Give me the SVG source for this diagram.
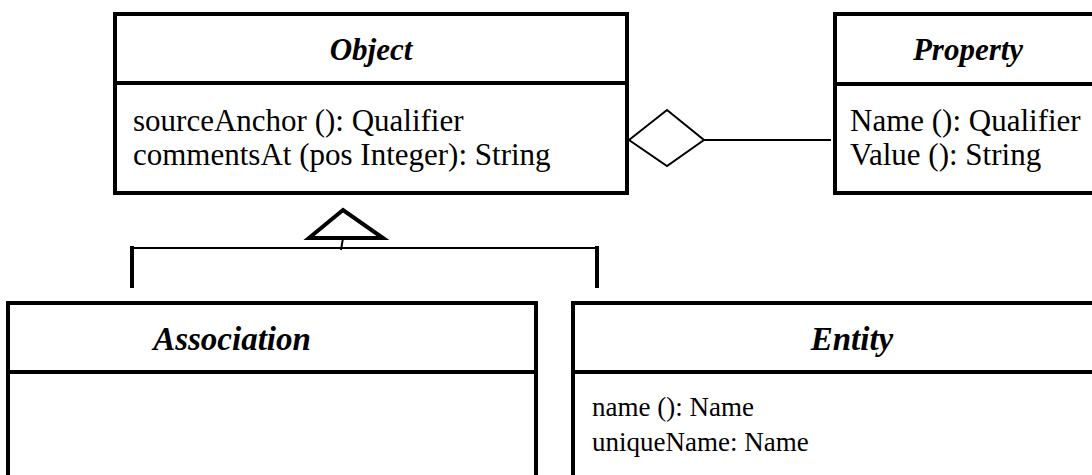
<svg xmlns="http://www.w3.org/2000/svg" width="1092" height="475" viewBox="0 0 1092 475">
  <style>
    .box { fill: #ffffff; stroke: #000000; stroke-width: 4; }
    .div { stroke: #000000; stroke-width: 4; }
    .title { font-family: "Liberation Serif", "Times New Roman", serif; font-weight: bold; font-style: italic; font-size: 31px; fill: #000000; text-anchor: middle; }
    .title-lg { font-size: 33px; }
    .row { font-family: "Liberation Serif", "Times New Roman", serif; font-size: 31px; fill: #000000; }
    .row-sm { font-family: "Liberation Serif", "Times New Roman", serif; font-size: 27px; fill: #000000; }
    .thin { fill: none; stroke: #000000; stroke-width: 2; }
    .thick { fill: none; stroke: #000000; stroke-width: 4; }
  </style>
  <rect width="1092" height="475" fill="#ffffff"/>

  <!-- class boxes -->
  <g id="object">
    <rect class="box" x="115" y="14" width="512" height="179"/>
    <line class="div" x1="115" y1="83" x2="627" y2="83"/>
    <text class="title" x="371" y="60">Object</text>
    <text class="row" x="133" y="131">sourceAnchor (): Qualifier</text>
    <text class="row" x="133" y="165">commentsAt (pos Integer): String</text>
  </g>

  <g id="property">
    <rect class="box" x="835" y="14" width="300" height="179"/>
    <line class="div" x1="835" y1="84" x2="1135" y2="84"/>
    <text class="title" x="968" y="60">Property</text>
    <text class="row" x="850" y="131">Name (): Qualifier</text>
    <text class="row" x="850" y="165">Value (): String</text>
  </g>

  <g id="association">
    <rect class="box" x="8" y="303" width="528" height="200"/>
    <line class="div" x1="8" y1="372" x2="536" y2="372"/>
    <text class="title title-lg" x="232" y="350">Association</text>
  </g>

  <g id="entity">
    <rect class="box" x="573" y="303" width="560" height="200"/>
    <line class="div" x1="573" y1="372" x2="1133" y2="372"/>
    <text class="title title-lg" x="852" y="350">Entity</text>
    <text class="row-sm" x="592" y="416">name (): Name</text>
    <text class="row-sm" x="592" y="451">uniqueName: Name</text>
  </g>

  <!-- connectors -->
  <g id="connectors">
    <!-- aggregation: Object <>—— Property -->
    <polygon class="thin" points="629,140 667,110 704,140 667,166" stroke-width="2.5"/>
    <line class="thin" x1="704" y1="140" x2="831" y2="140"/>
    <!-- generalization: Association, Entity -> Object -->
    <polygon class="thick" points="343,210 309,238 383,238" stroke-linejoin="miter"/>
    <line class="thin" x1="343" y1="238" x2="341" y2="250"/>
    <line class="thin" x1="132" y1="248" x2="597" y2="248"/>
    <line class="thick" x1="132" y1="246" x2="132" y2="288"/>
    <line class="thick" x1="597" y1="246" x2="597" y2="288"/>
  </g>
</svg>
